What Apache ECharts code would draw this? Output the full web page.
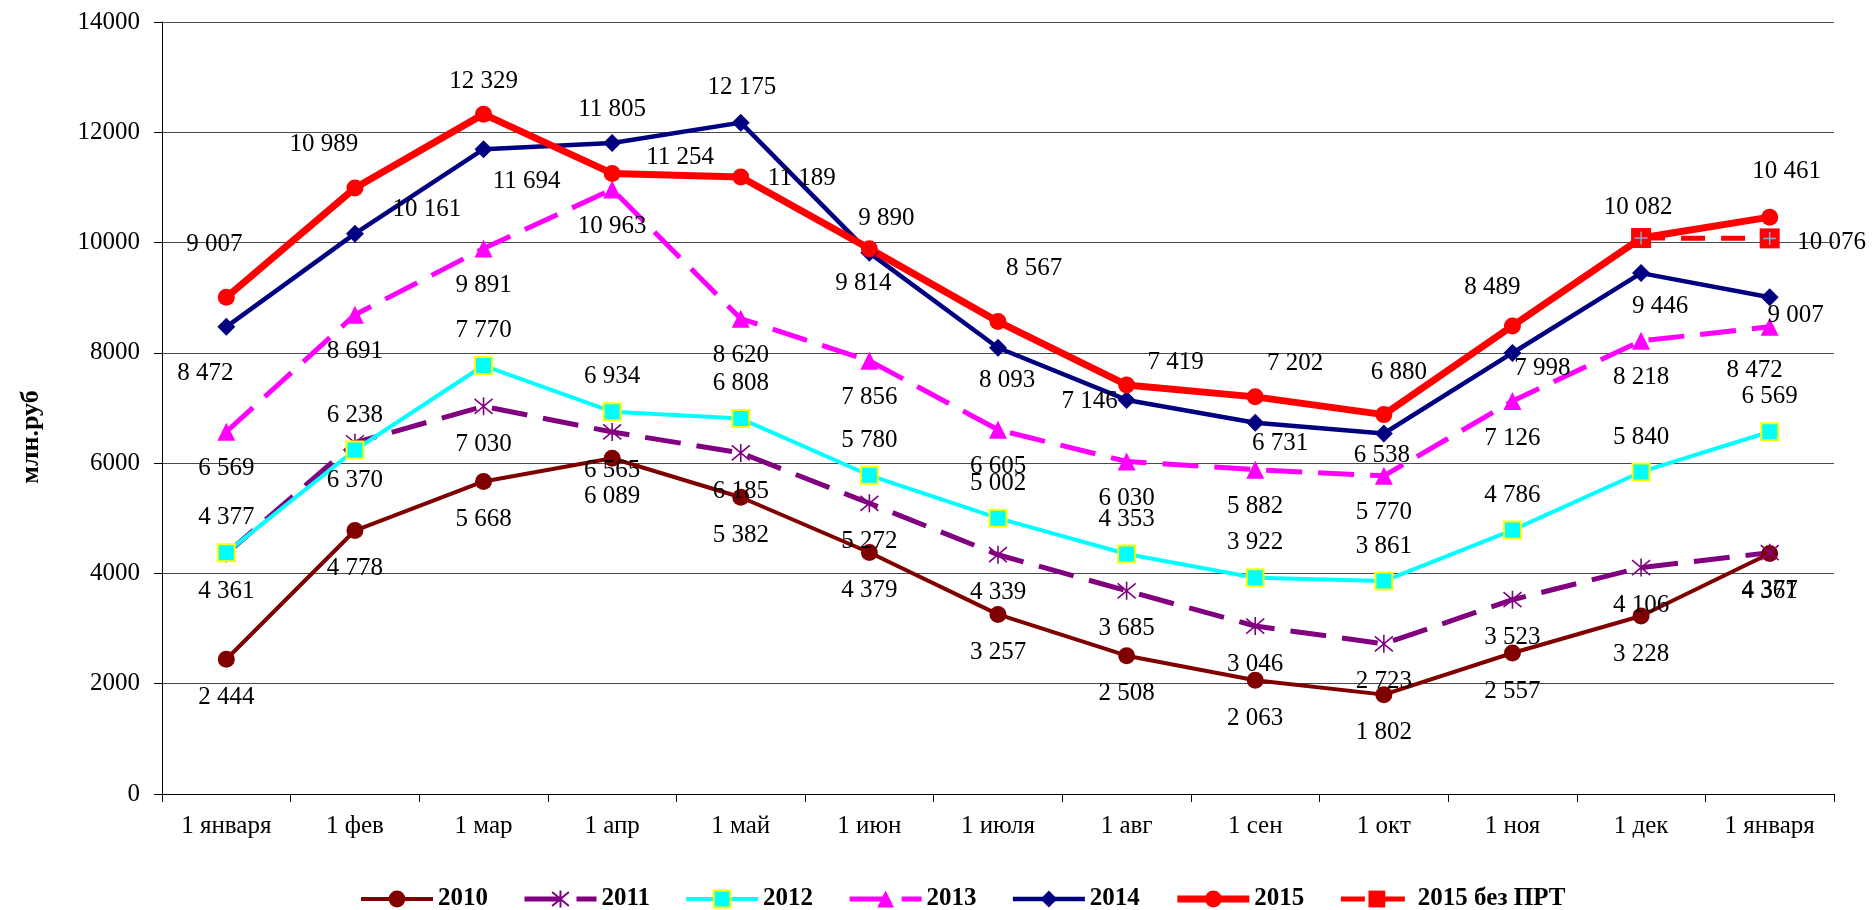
<!DOCTYPE html>
<html>
<head>
<meta charset="utf-8">
<script src="https://cdn.jsdelivr.net/npm/echarts@6/dist/echarts.min.js"></script>
<style>
html,body{margin:0;padding:0;background:#fff;}
#chart{width:1872px;height:910px;}
</style>
</head>
<body>
<div id="chart"></div>
<script>
// ---- data ----
const categories = ['1 января','1 фев','1 мар','1 апр','1 май','1 июн','1 июля','1 авг','1 сен','1 окт','1 ноя','1 дек','1 января'];
const yTicks = [0, 2000, 4000, 6000, 8000, 10000, 12000, 14000];
const s2010 = [2444, 4778, 5668, 6089, 5382, 4379, 3257, 2508, 2063, 1802, 2557, 3228, 4361];
const s2011 = [4361, 6370, 7030, 6565, 6185, 5272, 4339, 3685, 3046, 2723, 3523, 4106, 4377];
const s2012 = [4377, 6238, 7770, 6934, 6808, 5780, 5002, 4353, 3922, 3861, 4786, 5840, 6569];
const s2013 = [6569, 8691, 9891, 10963, 8620, 7856, 6605, 6030, 5882, 5770, 7126, 8218, 8472];
const s2014 = [8472, 10161, 11694, 11805, 12175, 9814, 8093, 7146, 6731, 6538, 7998, 9446, 9007];
const s2015 = [9007, 10989, 12329, 11254, 11189, 9890, 8567, 7419, 7202, 6880, 8489, 10082, 10461];
const s2015noPRT = [null, null, null, null, null, null, null, null, null, null, null, 10082, 10076];
const seriesNames = ['2010', '2011', '2012', '2013', '2014', '2015', '2015 без ПРТ'];

// ---- label placement (styling, not data) ----
const off2014 = [[-21,47],[72,-24],[43,32],[0,-34],[1,-35],[-6,31],[9,33],[-37,1],[25,21],[-2,22],[30,15],[19,33],[26,18]];
const off2015 = [[-12,-53],[-31,-44],[0,-33],[68,-16],[61,1],[17,-30],[36,-53],[49,-22],[40,-33],[15,-42],[-20,-38],[-3,-31],[17,-46]];

const FONT = 'Liberation Serif';
function fmt(v){
  if (v == null) return '';
  if (v >= 1000) return Math.floor(v/1000) + ' ' + String(v % 1000).padStart(3, '0');
  return String(v);
}
function withLabels(arr, offFn, showFn){
  return arr.map((v, i) => {
    if (v == null) return null;
    return {value: v, label: {show: showFn ? showFn(i) : true, offset: offFn(i)}};
  });
}
const baseLabel = {show: true, position: 'inside', color: '#000', fontFamily: FONT, fontSize: 25,
  formatter: p => fmt(p.value)};

const starPath = 'path://M0,0L20,20M20,0L0,20M10,-2L10,22';
const plusPath = 'path://M10,0L10,20M0,10L20,10';

const chart = echarts.init(document.getElementById('chart'), null, {renderer: 'canvas'});
chart.setOption({
  animation: false,
  backgroundColor: '#fff',
  grid: {left: 162, right: 38, top: 22, bottom: 116},
  xAxis: {
    type: 'category', data: categories, boundaryGap: true,
    axisLine: {show: true, lineStyle: {color: '#000', width: 1}},
    axisTick: {show: true, length: 8, lineStyle: {color: '#000'}},
    axisLabel: {interval: 0, color: '#000', fontFamily: FONT, fontSize: 25, margin: 20},
    splitLine: {show: false}
  },
  yAxis: {
    type: 'value', min: yTicks[0], max: yTicks[yTicks.length-1], interval: yTicks[1]-yTicks[0],
    axisLine: {show: true, lineStyle: {color: '#000', width: 1}},
    axisTick: {show: true, length: 8, lineStyle: {color: '#000'}},
    axisLabel: {color: '#000', fontFamily: FONT, fontSize: 25, margin: 22, formatter: v => String(v)},
    splitLine: {show: true, lineStyle: {color: '#4a4a4a', width: 1}}
  },
  graphic: [{
    type: 'text', x: 31, y: 437, rotation: Math.PI/2,
    style: {text: 'млн.руб', font: 'bold 26px "Liberation Serif"', fill: '#000', textAlign: 'center', textVerticalAlign: 'middle'}
  }],
  legend: {
    data: seriesNames, left: 354, top: 881, itemWidth: 72, itemHeight: 21, itemGap: 34,
    lineStyle: {width: 'inherit', type: 'inherit'},
    textStyle: {color: '#000', fontFamily: FONT, fontSize: 25, fontWeight: 'bold', lineHeight: 26}
  },
  series: [
    {name: '2010', type: 'line', data: withLabels(s2010, () => [0, 38]),
     symbol: 'circle', symbolSize: 17,
     lineStyle: {color: '#800000', width: 4},
     itemStyle: {color: '#800000'}, label: baseLabel},
    {name: '2011', type: 'line', data: withLabels(s2011, () => [0, 38]),
     symbol: starPath, symbolSize: 18,
     lineStyle: {color: '#800080', width: 5, type: [36, 16]},
     itemStyle: {color: 'rgba(0,0,0,0)', borderColor: '#800080', borderWidth: 1.6}, label: baseLabel},
    {name: '2012', type: 'line', data: withLabels(s2012, () => [0, -35]),
     symbol: 'rect', symbolSize: 17,
     lineStyle: {color: '#00FFFF', width: 4},
     itemStyle: {color: '#00FFFF', borderColor: '#FFFF00', borderWidth: 2}, label: baseLabel},
    {name: '2013', type: 'line', data: withLabels(s2013, i => i === 12 ? [-15, 44] : [0, 37]),
     symbol: 'triangle', symbolSize: 18,
     lineStyle: {color: '#FF00FF', width: 5, type: [36, 16]},
     itemStyle: {color: '#FF00FF'}, label: baseLabel},
    {name: '2014', type: 'line', data: withLabels(s2014, i => off2014[i]),
     symbol: 'diamond', symbolSize: 18,
     lineStyle: {color: '#000080', width: 4.5},
     itemStyle: {color: '#000080'}, label: baseLabel},
    {name: '2015', type: 'line', data: withLabels(s2015, i => off2015[i]),
     symbol: 'circle', symbolSize: 17,
     lineStyle: {color: '#FF0000', width: 7},
     itemStyle: {color: '#FF0000'}, label: baseLabel},
    {name: '2015 без ПРТ', type: 'line', data: withLabels(s2015noPRT, () => [62, 4], i => i === 12),
     symbol: 'rect', symbolSize: 20, connectNulls: false,
     lineStyle: {color: '#FF0000', width: 5, type: [24, 16]},
     itemStyle: {color: '#FF0000'}, label: baseLabel},
    {name: 'plus', type: 'line', data: s2015noPRT, silent: true,
     symbol: plusPath, symbolSize: 13, showSymbol: true,
     lineStyle: {width: 0, opacity: 0},
     itemStyle: {color: 'rgba(0,0,0,0)', borderColor: '#8EA6D4', borderWidth: 1.5},
     label: {show: false}}
  ]
});
</script>
</body>
</html>
